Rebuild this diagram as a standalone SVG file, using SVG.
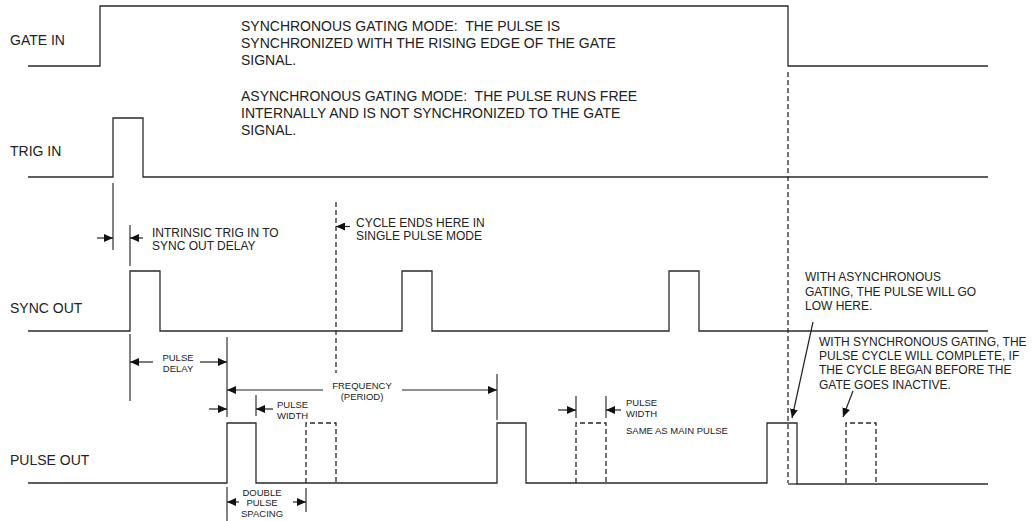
<svg xmlns="http://www.w3.org/2000/svg" width="1034" height="521" viewBox="0 0 1034 521">
<defs>
<style>
.sig{fill:none;stroke:#2a2a2a;stroke-width:1.3}
.dash{fill:none;stroke:#2a2a2a;stroke-width:1.3;stroke-dasharray:5 3}
.ext{fill:none;stroke:#333;stroke-width:1.2}
.arr{fill:none;stroke:#222;stroke-width:1.2;marker-end:url(#ah)}
.lbl{font-family:"Liberation Sans",Arial,sans-serif;font-size:14px;fill:#222;white-space:pre}
.note{font-family:"Liberation Sans",Arial,sans-serif;font-size:12px;fill:#222;white-space:pre}
.sm{font-family:"Liberation Sans",Arial,sans-serif;font-size:9.5px;fill:#222}
.mid{text-anchor:middle}
</style>
<marker id="ah" markerUnits="userSpaceOnUse" markerWidth="9" markerHeight="8" refX="9" refY="4" orient="auto">
<path d="M0,0 L9,4 L0,8 z" fill="#111"/>
</marker>
</defs>
<rect width="1034" height="521" fill="#fff"/>

<g id="gate-in">
<text class="lbl" x="10" y="45">GATE IN</text>
<path class="sig" d="M28 66 H100 V6 H788 V66 H988"/>
</g>
<g id="trig-in">
<text class="lbl" x="10" y="156">TRIG IN</text>
<path class="sig" d="M28 177 H113 V118 H143 V177 H988"/>
</g>
<g id="sync-out">
<text class="lbl" x="10" y="313">SYNC OUT</text>
<path class="sig" d="M28 331 H130 V271 H160 V331 H402 V271 H432 V331 H669 V271 H699 V331 H988"/>
</g>
<g id="pulse-out">
<text class="lbl" x="10" y="465">PULSE OUT</text>
<path class="sig" d="M28 483 H227 V423 H256 V483 H497 V423 H526 V483 H767 V423 H797 V484 H988"/>
<path class="sig" d="M788 484 H797"/>
<path class="dash" d="M306 483 V423 H336 V483"/>
<path class="dash" d="M576 483 V423 H606 V483"/>
<path class="dash" d="M846 483 V423 H876 V483"/>
</g>

<g id="mode-notes">
<text class="lbl" x="241" y="31">SYNCHRONOUS GATING MODE:  THE PULSE IS</text>
<text class="lbl" x="241" y="48">SYNCHRONIZED WITH THE RISING EDGE OF THE GATE</text>
<text class="lbl" x="241" y="65">SIGNAL.</text>
<text class="lbl" x="241" y="101">ASYNCHRONOUS GATING MODE:  THE PULSE RUNS FREE</text>
<text class="lbl" x="241" y="118">INTERNALLY AND IS NOT SYNCHRONIZED TO THE GATE</text>
<text class="lbl" x="241" y="135">SIGNAL.</text>
</g>

<g id="connectors">
<path class="dash" d="M788 72 V483"/>
<path class="dash" d="M336 202 V373"/>
<path class="ext" d="M113 183 V250 M130 225 V266 M130 334 V401 M227 337 V417 M256 395 V416 M497 374 V420 M576 396 V418 M606 396 V418 M227 487 V521 M306 488 V512"/>
<path class="arr" d="M97 238 H113"/>
<path class="arr" d="M143 238 H130"/>
<path class="arr" d="M350 226.5 H336"/>
<path class="arr" d="M153 362 H130"/>
<path class="arr" d="M200 362 H227"/>
<path class="arr" d="M323 390 H227"/>
<path class="arr" d="M402 390 H497"/>
<path class="arr" d="M209 409 H227"/>
<path class="arr" d="M273 409 H256"/>
<path class="arr" d="M558 410 H576"/>
<path class="arr" d="M621 410 H606"/>
<path class="arr" d="M239 502 H227"/>
<path class="arr" d="M293 502 H306"/>
<path class="arr" d="M813 322 L792 418"/>
<path class="arr" d="M853 391 L843 417"/>
</g>

<g id="labels">
<text class="note" x="152" y="237">INTRINSIC TRIG IN TO</text>
<text class="note" x="152" y="250">SYNC OUT DELAY</text>
<text class="note" x="356" y="226.5">CYCLE ENDS HERE IN</text>
<text class="note" x="356" y="239.5">SINGLE PULSE MODE</text>
<text class="sm mid" x="178" y="361">PULSE</text>
<text class="sm mid" x="178" y="371.5">DELAY</text>
<text class="sm mid" x="362" y="388.5">FREQUENCY</text>
<text class="sm mid" x="362" y="400">(PERIOD)</text>
<text class="sm" x="277" y="407.5">PULSE</text>
<text class="sm" x="277" y="418.5">WIDTH</text>
<text class="sm" x="626" y="406">PULSE</text>
<text class="sm" x="626" y="417">WIDTH</text>
<text class="sm" x="626" y="434">SAME AS MAIN PULSE</text>
<text class="sm mid" x="262" y="496">DOUBLE</text>
<text class="sm mid" x="262" y="506">PULSE</text>
<text class="sm mid" x="262" y="517">SPACING</text>
<text class="note" x="805" y="281">WITH ASYNCHRONOUS</text>
<text class="note" x="805" y="295.5">GATING, THE PULSE WILL GO</text>
<text class="note" x="805" y="310">LOW HERE.</text>
<text class="note" x="819" y="345.5">WITH SYNCHRONOUS GATING, THE</text>
<text class="note" x="819" y="360">PULSE CYCLE WILL COMPLETE, IF</text>
<text class="note" x="819" y="374">THE CYCLE BEGAN BEFORE THE</text>
<text class="note" x="819" y="388.5">GATE GOES INACTIVE.</text>
</g>
</svg>
